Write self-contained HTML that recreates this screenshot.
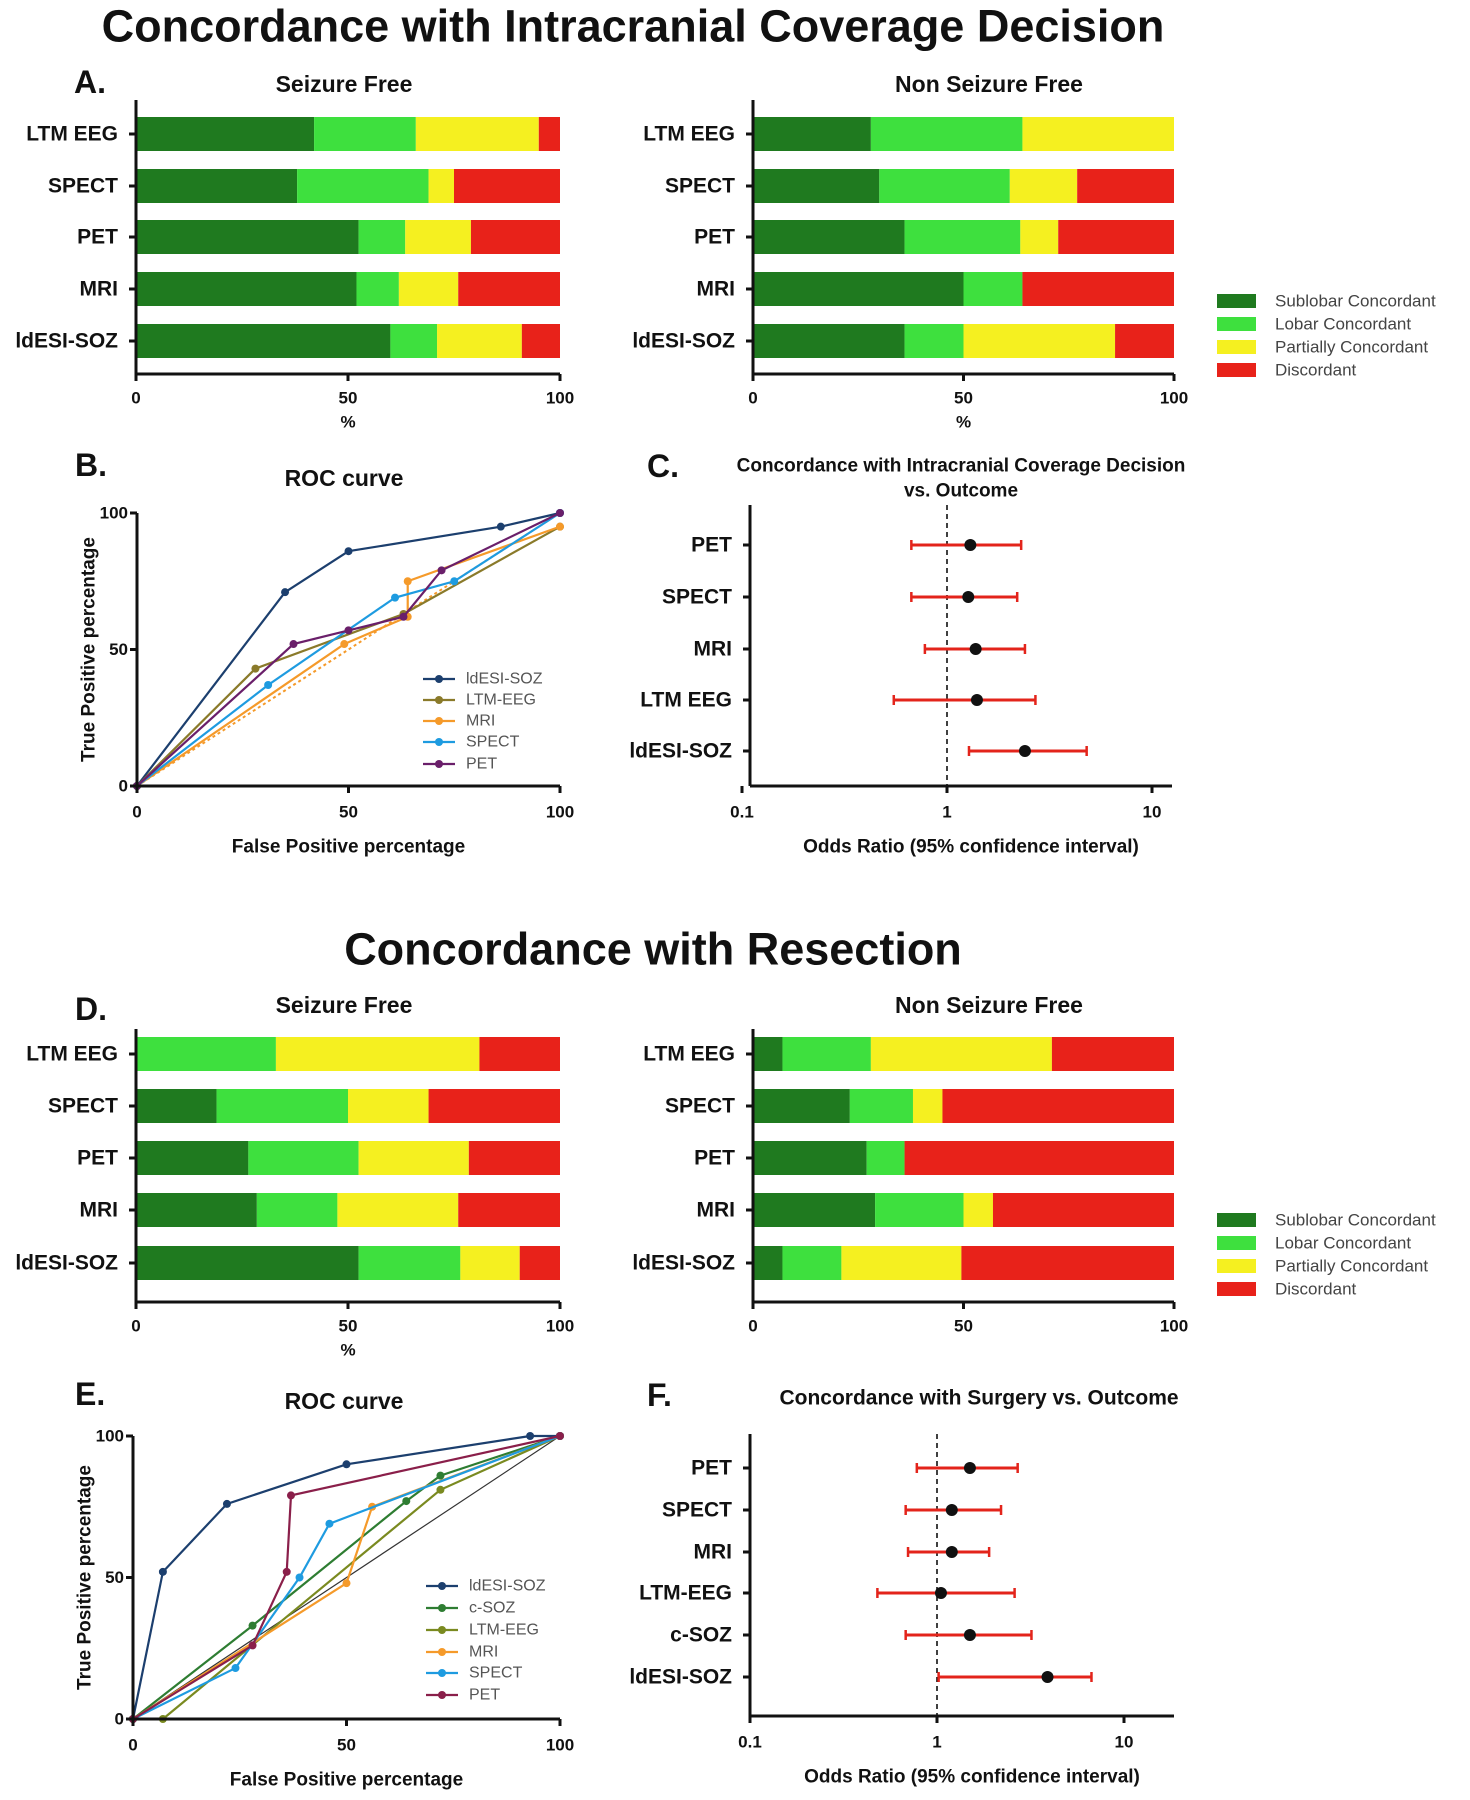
<!DOCTYPE html>
<html><head><meta charset="utf-8"><style>
html,body{margin:0;padding:0;background:#fff;}
svg{display:block;font-family:"Liberation Sans",sans-serif;}
</style></head><body>
<svg id="fig" width="1470" height="1800" viewBox="0 0 1470 1800" xmlns="http://www.w3.org/2000/svg"></svg>
<script>
// ---------- DATA ----------
const barCats = ["LTM EEG","SPECT","PET","MRI","ldESI-SOZ"];
const segNames = ["Sublobar Concordant","Lobar Concordant","Partially Concordant","Discordant"];
const segColors = ["#1f7a1f","#3ee03e","#f5f020","#e8221a"];
const covSF = [[42,24,29,5],[38,31,6,25],[52.5,11,15.5,21],[52,10,14,24],[60,11,20,9]];
const covNSF = [[28,36,36,0],[30,31,16,23],[36,27.5,9,27.5],[50,14,0,36],[36,14,36,14]];
const resSF = [[0,33,48,19],[19,31,19,31],[26.5,26,26,21.5],[28.5,19,28.5,24],[52.5,24,14,9.5]];
const resNSF = [[7,21,43,29],[23,15,7,55],[27,9,0,64],[29,21,7,43],[7,14,28.5,50.5]];
const pctTicks = [0,50,100];

const rocBNames = ["ldESI-SOZ","LTM-EEG","MRI","SPECT","PET"];
const rocBColors = ["#1c3f6e","#8a7a2a","#f59a2a","#1e9be0","#6a1f6a"];
const rocBFP = [[0,35,50,86,100],[0,28,63,100],[0,49,64,64,100],[0,31,61,75,100],[0,37,50,63,72,100]];
const rocBTP = [[0,71,86,95,100],[0,43,63,95],[0,52,62,75,95],[0,37,69,75,100],[0,52,57,62,79,100]];

const rocENames = ["ldESI-SOZ","c-SOZ","LTM-EEG","MRI","SPECT","PET"];
const rocEColors = ["#1c3f6e","#2e7d32","#7a8a20","#f59a2a","#1e9be0","#8a1f4a"];
const rocEFP = [[0,7,22,50,93,100],[0,28,64,72,100],[0,7,72,100],[0,50,56,100],[0,24,39,46,100],[0,28,36,37,100]];
const rocETP = [[0,52,76,90,100,100],[0,33,77,86,100],[0,0,81,100],[0,48,75,100],[0,18,50,69,100],[0,26,52,79,100]];

const orCCats = ["PET","SPECT","MRI","LTM EEG","ldESI-SOZ"];
const orCMid = [1.3,1.27,1.38,1.4,2.4];
const orCLo = [0.67,0.67,0.78,0.55,1.28];
const orCHi = [2.3,2.2,2.4,2.7,4.8];
const orFCats = ["PET","SPECT","MRI","LTM-EEG","c-SOZ","ldESI-SOZ"];
const orFMid = [1.5,1.2,1.2,1.05,1.5,3.9];
const orFLo = [0.78,0.68,0.7,0.48,0.68,1.02];
const orFHi = [2.7,2.2,1.9,2.6,3.2,6.7];
const logTicks = [0.1,1,10];

// ---------- HELPERS ----------
const svg = document.getElementById('fig');
const NS = "http://www.w3.org/2000/svg";
function mk(tag, attrs, parent){
  const e = document.createElementNS(NS, tag);
  for (const k in attrs) e.setAttribute(k, attrs[k]);
  (parent||svg).appendChild(e);
  return e;
}
function txt(s, x, y, size, weight, anchor, fill, parent){
  const t = mk('text',{x:x,y:y,'font-size':size,'font-weight':weight||'bold','text-anchor':anchor||'middle',fill:fill||'#111','dominant-baseline':'central'},parent);
  t.textContent = s;
  return t;
}

function titleText(s,x,y,size,name){
  const t = txt(s,x,y,size,'bold','middle');
  
  
}

function barPanel(name, data, x0, x100, rowY, axTop, axY, showPct, showLegend, legY){
  const g = mk('g',{});
  
  
  const xs = v => x0 + (x100-x0)*v/100;
  const bh = 34;
  data.forEach((row,i)=>{
    let acc = 0;
    row.forEach((v,j)=>{
      if (v<=0) return;
      const r = mk('rect',{x:xs(acc),y:rowY[i]-bh/2,width:xs(acc+v)-xs(acc),height:bh,fill:segColors[j]},g);
      
      
      acc += v;
    });
    mk('line',{x1:x0-7,x2:x0,y1:rowY[i],y2:rowY[i],stroke:'#111','stroke-width':3},g);
    const l = txt(barCats[i], x0-18, rowY[i], 21, 'bold','end','#111',g);
    
    
  });
  mk('line',{x1:x0,x2:x0,y1:axTop,y2:axY,stroke:'#111','stroke-width':3},g);
  mk('line',{x1:x0,x2:x100,y1:axY,y2:axY,stroke:'#111','stroke-width':3},g);
  pctTicks.forEach(t=>{
    mk('line',{x1:xs(t),x2:xs(t),y1:axY,y2:axY+7,stroke:'#111','stroke-width':3},g);
    const tl = txt(String(t), xs(t), axY+24, 17, 'bold','middle','#111',g);
    
    
  });
  if (showPct){
    const p = txt('%', xs(50), axY+48, 17,'bold','middle','#111',g);
    
    
  }
  if (showLegend){
    segNames.forEach((n,j)=>{
      const y = legY[j];
      const s = mk('rect',{x:1217,y:y-7,width:39,height:14,fill:segColors[j]},g);
      
      
      const lt = txt(n, 1275, y, 17, 'normal','start','#444',g);
      
      
    });
  }
}

function rocPanel(name, names, colors, fps, tps, x0, x100, y0, y100, legX, legY, diag){
  const g = mk('g',{});
  
  
  const xs = v => x0 + (x100-x0)*v/100;
  const ys = v => y0 - (y0-y100)*v/100;
  if (diag){
    mk('line',{x1:xs(0),y1:ys(0),x2:xs(100),y2:ys(100),stroke:'#333','stroke-width':1.2},g);
  } else {
    mk('line',{x1:xs(0),y1:ys(0),x2:xs(100),y2:ys(100),stroke:'#f59a2a','stroke-width':2,'stroke-dasharray':'3,3'},g);
  }
  names.forEach((n,i)=>{
    const pts = fps[i].map((f,k)=>xs(f)+','+ys(tps[i][k])).join(' ');
    const pl = mk('polyline',{points:pts,fill:'none',stroke:colors[i],'stroke-width':2.2},g);
    
    
    fps[i].forEach((f,k)=>{
      const c = mk('circle',{cx:xs(f),cy:ys(tps[i][k]),r:4,fill:colors[i]},g);
      
      
    });
    const ly = legY[i];
    mk('line',{x1:legX-16,x2:legX+16,y1:ly,y2:ly,stroke:colors[i],'stroke-width':2.2},g);
    mk('circle',{cx:legX,cy:ly,r:4,fill:colors[i]},g);
    const lt = txt(n, legX+27, ly, 16, 'normal','start','#555',g);
    
    
  });
  mk('line',{x1:x0,x2:x0,y1:y100,y2:y0,stroke:'#111','stroke-width':3},g);
  mk('line',{x1:x0,x2:x100,y1:y0,y2:y0,stroke:'#111','stroke-width':3},g);
  pctTicks.forEach(t=>{
    mk('line',{x1:xs(t),x2:xs(t),y1:y0,y2:y0+7,stroke:'#111','stroke-width':3},g);
    mk('line',{x1:x0-7,x2:x0,y1:ys(t),y2:ys(t),stroke:'#111','stroke-width':3},g);
    const a = txt(String(t), xs(t), y0+26, 17,'bold','middle','#111',g);
    
    
    const b = txt(String(t), x0-9, ys(t), 17,'bold','end','#111',g);
    
    
  });
  const xt = txt('False Positive percentage', xs(50), y0+61, 19,'bold','middle','#111',g);
  
  
  const yt = txt('True Positive percentage', 0, 0, 19,'bold','middle','#111',g);
  yt.setAttribute('transform','translate('+(x0-48)+','+((y0+y100)/2)+') rotate(-90)');
  
  
}

function forestPanel(name, cats, mids, los, his, axX, x1, dec, rowY, axTop, axY, axRight){
  const g = mk('g',{});
  
  
  const xs = v => x1 + dec*Math.log10(v);
  mk('line',{x1:xs(1),x2:xs(1),y1:axTop,y2:axY,stroke:'#111','stroke-width':1.6,'stroke-dasharray':'5,4'},g);
  cats.forEach((c,i)=>{
    const y = rowY[i];
    const e = mk('line',{x1:xs(los[i]),x2:xs(his[i]),y1:y,y2:y,stroke:'#e3241b','stroke-width':3},g);
    
    
    mk('line',{x1:xs(los[i]),x2:xs(los[i]),y1:y-5,y2:y+5,stroke:'#e3241b','stroke-width':2.5},g);
    mk('line',{x1:xs(his[i]),x2:xs(his[i]),y1:y-5,y2:y+5,stroke:'#e3241b','stroke-width':2.5},g);
    const p = mk('circle',{cx:xs(mids[i]),cy:y,r:6,fill:'#111'},g);
    
    
    mk('line',{x1:axX-7,x2:axX,y1:y,y2:y,stroke:'#111','stroke-width':3},g);
    const l = txt(c, axX-18, y, 21,'bold','end','#111',g);
    
    
  });
  mk('line',{x1:axX,x2:axX,y1:axTop,y2:axY,stroke:'#111','stroke-width':3},g);
  mk('line',{x1:axX,x2:axRight,y1:axY,y2:axY,stroke:'#111','stroke-width':3},g);
  logTicks.forEach(t=>{
    mk('line',{x1:xs(t),x2:xs(t),y1:axY,y2:axY+7,stroke:'#111','stroke-width':3},g);
    const a = txt(String(t), xs(t), axY+26, 17,'bold','middle','#111',g);
    
    
  });
  const xt = txt('Odds Ratio (95% confidence interval)', (axX+axRight)/2+10, axY+61, 19,'bold','middle','#111',g);
  
  
}

// ---------- TITLES ----------
titleText('Concordance with Intracranial Coverage Decision', 633, 26, 45, 'main-title-coverage');
titleText('Concordance with Resection', 653, 949, 45, 'main-title-resection');
[['A.',74,82],['B.',75,465],['C.',647,466],['D.',75,1009],['E.',75,1394],['F.',647,1395]].forEach(p=>{
  const t = txt(p[0],p[1],p[2],32,'bold','start');
  
  
});
titleText('Seizure Free', 344, 84, 23, 'panel-a-left-title');
titleText('Non Seizure Free', 989, 84, 23, 'panel-a-right-title');
titleText('ROC curve', 344, 478, 23, 'panel-b-title');
titleText('Concordance with Intracranial Coverage Decision', 961, 466, 19, 'panel-c-title');
titleText('vs. Outcome', 961, 491, 19, 'panel-c-subtitle');
titleText('Seizure Free', 344, 1005, 23, 'panel-d-left-title');
titleText('Non Seizure Free', 989, 1005, 23, 'panel-d-right-title');
titleText('ROC curve', 344, 1401, 23, 'panel-e-title');
titleText('Concordance with Surgery vs. Outcome', 979, 1398, 21, 'panel-f-title');

// ---------- PANELS ----------
const rowsA = [134,186,237,289,341];
barPanel('panel-a-seizure-free', covSF, 136, 560, rowsA, 100, 374, true, false);
barPanel('panel-a-non-seizure-free', covNSF, 753, 1174, rowsA, 100, 374, true, true, [301,324,347,370]);
rocPanel('panel-b-roc', rocBNames, rocBColors, rocBFP, rocBTP, 137, 560, 786, 513, 439, [679,700,721,742,764], false);
forestPanel('panel-c-forest', orCCats, orCMid, orCLo, orCHi, 750, 947, 205, [545,597,649,700,751], 505, 786, 1172);

const rowsD = [1054,1106,1158,1210,1263];
barPanel('panel-d-seizure-free', resSF, 136, 560, rowsD, 1029, 1302, true, false);
barPanel('panel-d-non-seizure-free', resNSF, 753, 1174, rowsD, 1029, 1302, false, true, [1220,1243,1266,1289]);
rocPanel('panel-e-roc', rocENames, rocEColors, rocEFP, rocETP, 133, 560, 1719, 1436, 442, [1586,1608,1630,1652,1673,1695], true);
forestPanel('panel-f-forest', orFCats, orFMid, orFLo, orFHi, 750, 937, 187, [1468,1510,1552,1593,1635,1677], 1434, 1716, 1174);
</script>
</body></html>
